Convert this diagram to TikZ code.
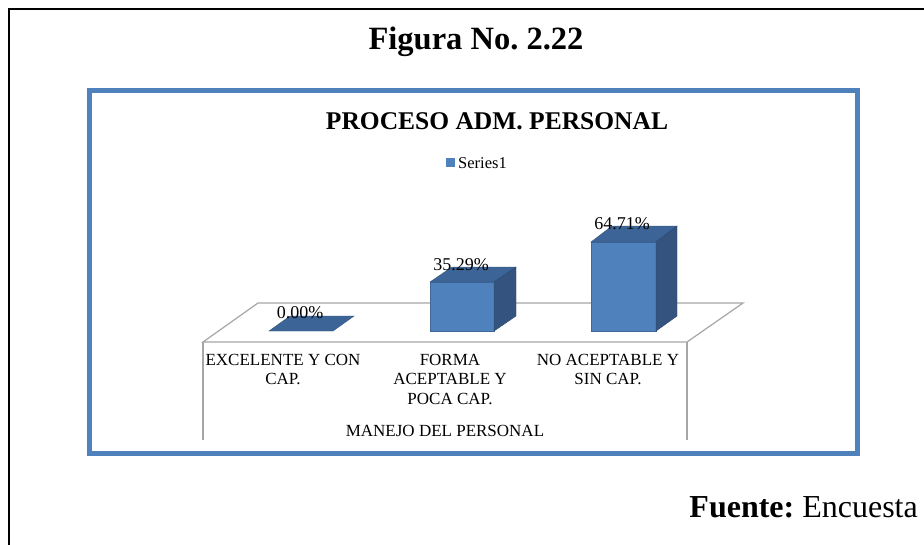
\documentclass[tikz,border=0pt]{standalone}
\usepackage{fontspec}
\setmainfont{Liberation Serif}
\frenchspacing
\definecolor{barfront}{HTML}{4F81BD}
\definecolor{bartop}{HTML}{3C6496}
\definecolor{barside}{HTML}{34547F}
\definecolor{framecol}{HTML}{4F81BD}
\definecolor{floorcol}{HTML}{A6A6A6}
\tikzset{
  figtitle/.style={font=\fontsize{32.5}{38}\selectfont\bfseries, inner sep=0pt},
  charttitle/.style={font=\fontsize{25.5}{30}\selectfont\bfseries, inner sep=0pt},
  valuelabel/.style={font=\fontsize{18}{21}\selectfont, inner sep=0pt},
  catlabel/.style={font=\fontsize{17}{19.5}\selectfont, align=center, inner sep=0pt, anchor=north},
  legendtext/.style={font=\fontsize{16.5}{19}\selectfont, inner sep=0pt, anchor=west},
  floorline/.style={draw=floorcol, line width=1.2pt},
  front/.style={fill=barfront, draw=barfront!80!black, line width=0.4pt},
  top/.style={fill=bartop, draw=bartop!85!black, line width=0.4pt},
  side/.style={fill=barside, draw=barside!85!black, line width=0.4pt},
}
\begin{document}
\begin{tikzpicture}[x=1pt, y=-1pt]
  \useasboundingbox (0,0) rectangle (924,544);
  \fill[white] (0,0) rectangle (924,544);

  % outer page frame (open on the right and bottom)
  \draw[black, line width=2.5pt] (9,545) -- (9,9) -- (925,9);

  % figure heading
  \node[figtitle] (heading) at (476,42) {Figura No. 2.22};

  % chart frame
  \draw[framecol, line width=5pt] (89.5,90.5) rectangle (857,453);

  \node[charttitle] (ctitle) at (497,121) {PROCESO ADM. PERSONAL};

  % legend
  \fill[barfront] (446,158) rectangle (455,167);
  \node[legendtext] (legend) at (458,163) {Series1};

  % 3D floor and front face
  \coordinate (fl) at (203,342);
  \coordinate (fr) at (687,342);
  \coordinate (bl) at (258,303);
  \coordinate (br) at (743,303);
  \draw[floorline] (fl) -- (bl) -- (br) -- (fr) -- cycle;
  \draw[floorline] (fl) -- (203,440);
  \draw[floorline] (fr) -- (687,440);

  % bar 1 (0.00%): flat slab
  \filldraw[top] (269,331) -- (333,331) -- (354,316) -- (290,316) -- cycle;

  % bar 2 (35.29%)
  \filldraw[front] (430,331) rectangle (494,282);
  \filldraw[top] (430,282) -- (494,282) -- (516,267) -- (452,267) -- cycle;
  \filldraw[side] (494,282) -- (516,267) -- (516,316) -- (494,331) -- cycle;

  % bar 3 (64.71%)
  \filldraw[front] (591,331) rectangle (656,242);
  \filldraw[top] (591,242) -- (656,242) -- (677,226) -- (612,226) -- cycle;
  \filldraw[side] (656,242) -- (677,226) -- (677,316) -- (656,331) -- cycle;

  % value labels
  \node[valuelabel] (v1) at (300,313) {0.00\%};
  \node[valuelabel] (v2) at (461,265) {35.29\%};
  \node[valuelabel] (v3) at (622,224) {64.71\%};

  % category labels
  \node[catlabel] (c1) at (283,354) {EXCELENTE Y CON\\CAP.};
  \node[catlabel] (c2) at (450,354) {FORMA\\ACEPTABLE Y\\POCA CAP.};
  \node[catlabel] (c3) at (608,354) {NO ACEPTABLE Y\\SIN CAP.};
  \node[catlabel, anchor=center] (axis) at (445,431) {MANEJO DEL PERSONAL};

  % source line
  \node[inner sep=0pt, anchor=east, font=\fontsize{32}{38}\selectfont] (source) at (918,507) {\textbf{Fuente:} Encuesta};
\end{tikzpicture}
\end{document}
